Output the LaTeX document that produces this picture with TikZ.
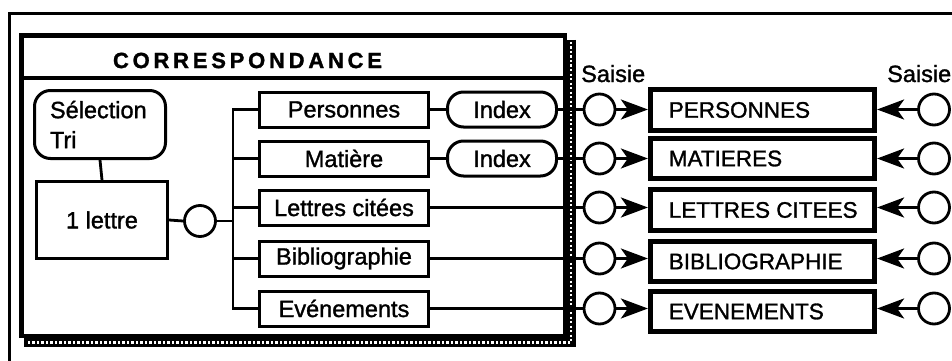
\documentclass[tikz,border=0pt]{standalone}
\usepackage{fontspec}
\setmainfont{Liberation Sans}[FakeBold=1.3]
\usetikzlibrary{arrows.meta}
\begin{document}
\begin{tikzpicture}[x=1pt,y=-1pt,
  txt/.style={font=\fontsize{23.5}{30}\selectfont},
  conn/.style={line width=2.8pt},
  lbox/.style={draw, line width=3pt, minimum width=169pt, minimum height=35pt, inner sep=0pt, txt},
  idxbox/.style={draw, line width=3pt, rounded corners=16pt, minimum width=109pt, minimum height=35pt, inner sep=0pt, txt},
  rbox/.style={draw, line width=4.8pt, minimum width=224.4pt, minimum height=40.5pt, inner xsep=18.5pt, inner ysep=0pt, font=\fontsize{22.5}{30}\selectfont},
  ring/.style={draw, circle, line width=2.8pt, minimum size=31pt, inner sep=0pt},
  arr/.style={line width=2.8pt, -{Stealth[length=27pt,width=20pt,inset=7pt]}},
]
\useasboundingbox (0,0) rectangle (952,361);
% outer frame
\draw[line width=3pt] (952,14) -- (9.5,14) -- (9.5,361);
% shadow of the inner box
\draw[line width=9pt] (571,40) -- (571,342.5) -- (24,342.5);
\draw[white, line width=2.2pt, dash pattern=on 2.2pt off 2.3pt] (571,42) -- (571,342.5) -- (26,342.5);
% inner box
\draw[line width=4.8pt] (21.5,35.5) rectangle (565,336);
\draw[line width=3.8pt] (21.5,78) -- (565,78);
\node[font=\bfseries\fontsize{22}{25}\selectfont, inner sep=0pt] (title) at (247.5,60.5)
  {\makebox[269pt][s]{C\hfill O\hfill R\hfill R\hfill E\hfill S\hfill P\hfill O\hfill N\hfill D\hfill A\hfill N\hfill C\hfill E}};
% left part
\node[draw, line width=3pt, rounded corners=16pt, minimum width=131pt, minimum height=68pt,
  inner xsep=0pt, text width=100pt, align=left, txt] (sel) at (100,124.5) {Sélection\\Tri};
\node[draw, line width=3pt, minimum width=131pt, minimum height=77pt, txt] (one) at (102,220) {1 lettre};
\node[ring] (c0) at (200,221) {};
\coordinate (bus) at (233,221);
% boxes
\node[lbox] (lb1) at (344,109.5) {Personnes};
\node[lbox] (lb2) at (344,158.5) {Matière};
\node[lbox] (lb3) at (344,207.5) {Lettres citées};
\node[lbox] (lb4) at (344,258.5) {Bibliographie};
\node[lbox] (lb5) at (344,308.5) {Evénements};
\node[idxbox] (ix1) at (502,109.5) {Index};
\node[idxbox] (ix2) at (502,158.5) {Index};
% circles
\foreach \i/\y in {1/109.5,2/158.5,3/207.5,4/258.5,5/308.5}{
  \node[ring] (sl\i) at (599.5,\y) {};
  \node[ring] (sr\i) at (934,\y) {};
}
% right boxes
\node[rbox] (rb1) at (762.5,110) {\makebox[187.4pt][l]{PERSONNES}};
\node[rbox] (rb2) at (762.5,158.5) {\makebox[187.4pt][l]{MATIERES}};
\node[rbox] (rb3) at (762.5,210) {\makebox[187.4pt][l]{LETTRES CITEES}};
\node[rbox] (rb4) at (762.5,261.5) {\makebox[187.4pt][l]{BIBLIOGRAPHIE}};
\node[rbox] (rb5) at (762.5,311.5) {\makebox[187.4pt][l]{EVENEMENTS}};
% Saisie labels
\node[txt, anchor=base west, inner sep=0pt] (sa1) at (581,82) {Saisie};
\node[txt, anchor=base west, inner sep=0pt] (sa2) at (887,82) {Saisie};
% connectors
\draw[conn] (sel.south) -- (one.north);
\draw[conn] (one.east) -- (c0.west);
\draw[conn] (c0.east) -- (bus);
\draw[conn] (lb1.west) -| (bus |- lb5.west) -- (lb5.west);
\foreach \i in {2,3,4} \draw[conn] (lb\i.west) -- (lb\i.west -| bus);
\draw[conn] (lb1.east) -- (ix1.west);
\draw[conn] (lb2.east) -- (ix2.west);
\draw[conn] (ix1.east) -- (sl1.west);
\draw[conn] (ix2.east) -- (sl2.west);
\foreach \i in {3,4,5} \draw[conn] (lb\i.east) -- (sl\i.west);
\foreach \i in {1,...,5}{
  \draw[arr] (sl\i.east) -- (sl\i.east -| rb\i.west);
  \draw[arr] (sr\i.west) -- (sr\i.west -| rb\i.east);
}
\end{tikzpicture}
\end{document}
